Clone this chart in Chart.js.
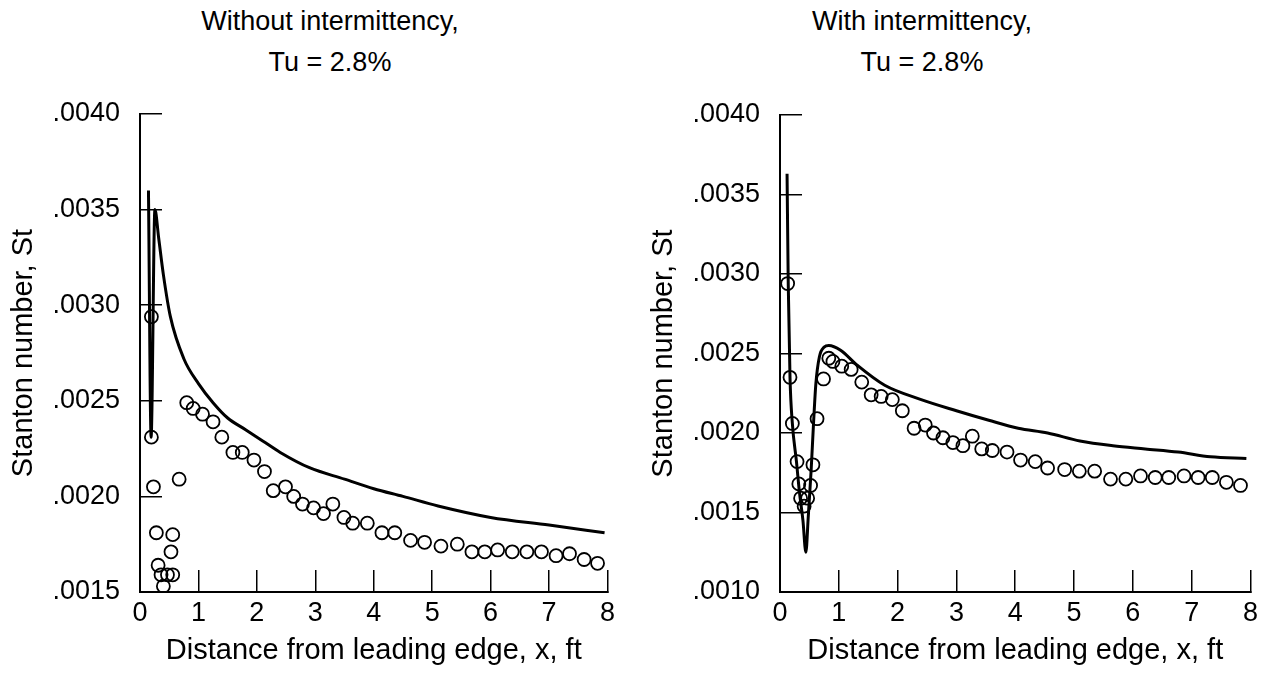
<!doctype html>
<html>
	<head>
		<meta charset="utf-8" />
		<title>Stanton number vs distance from leading edge</title>
		<script src="https://cdn.jsdelivr.net/npm/chart.js@4.4.1/dist/chart.umd.min.js"></script>
		<style>
			html,
			body {
				margin: 0;
				padding: 0;
				background: #fff;
			}

			#wrap {
				position: relative;
				width: 1285px;
				height: 675px;
				font-family: "Liberation Sans", Arial, Helvetica, sans-serif;
			}

			canvas {
				position: absolute;
				top: 0;
			}

			.ttl {
				position: absolute;
				top: 1px;
				width: 400px;
				margin-left: -200px;
				text-align: center;
				font-size: 27px;
				line-height: 41px;
				color: #000;
			}
		</style>
	</head>

	<body>
		<div id="wrap">
			<div class="ttl" style="left: 330px">Without intermittency,<br />Tu = 2.8%</div>
			<div class="ttl" style="left: 922px">With intermittency,<br />Tu = 2.8%</div>
			<canvas id="leftChart" width="642" height="675" style="left: 0"></canvas>
			<canvas id="rightChart" width="643" height="675" style="left: 642px"></canvas>
		</div>

		<script>
			// values (x in ft, St)
			const xTicks = [0, 1, 2, 3, 4, 5, 6, 7, 8];

			// left panel: without intermittency
			const noIntLineX = [0.145, 0.19, 0.255, 0.32, 0.4, 0.52, 0.75, 1.0, 1.25, 1.5, 1.8, 2.1, 2.4, 2.9, 3.5, 4.0, 4.5, 5.1, 6.0, 7.0, 7.95];
			const noIntLineSt = [0.0036, 0.00231, 0.0035, 0.00335, 0.00316, 0.00294, 0.00272, 0.00259, 0.00249, 0.00241, 0.00235, 0.00229, 0.00223, 0.00215, 0.00209, 0.00204, 0.002, 0.00195, 0.00189, 0.00185, 0.00181];
			const noIntDataX = [0.195, 0.195, 0.23, 0.28, 0.31, 0.36, 0.4, 0.47, 0.56, 0.53, 0.56, 0.67, 0.8, 0.91, 1.07, 1.25, 1.4, 1.59, 1.75, 1.95, 2.13, 2.28, 2.49, 2.63, 2.78, 2.97, 3.14, 3.3, 3.49, 3.64, 3.89, 4.14, 4.36, 4.63, 4.87, 5.15, 5.43, 5.68, 5.9, 6.12, 6.37, 6.62, 6.87, 7.12, 7.35, 7.6, 7.83];
			const noIntDataSt = [0.00294, 0.00231, 0.00205, 0.00181, 0.00164, 0.00159, 0.00153, 0.00159, 0.00159, 0.00171, 0.0018, 0.00209, 0.00249, 0.00246, 0.00243, 0.00239, 0.00231, 0.00223, 0.00223, 0.00219, 0.00213, 0.00203, 0.00205, 0.002, 0.00196, 0.00194, 0.00191, 0.00196, 0.00189, 0.00186, 0.00186, 0.00181, 0.00181, 0.00177, 0.00176, 0.00174, 0.00175, 0.00171, 0.00171, 0.00172, 0.00171, 0.00171, 0.00171, 0.00169, 0.0017, 0.00167, 0.00165];
			const noIntStTicks = [0.0015, 0.002, 0.0025, 0.003, 0.0035, 0.004];

			// right panel: with intermittency
			const intLineX = [0.12, 0.14, 0.17, 0.21, 0.28, 0.33, 0.39, 0.44, 0.48, 0.53, 0.57, 0.61, 0.67, 0.75, 0.83, 1.03, 1.3, 1.78, 2.4, 3.0, 3.55, 4.05, 4.55, 5.1, 5.66, 6.21, 6.77, 7.32, 7.93];
			const intLineSt = [0.00363, 0.00294, 0.00235, 0.00206, 0.00182, 0.00163, 0.00145, 0.00125, 0.00147, 0.00177, 0.00206, 0.00231, 0.00248, 0.00254, 0.00255, 0.00252, 0.00243, 0.0023, 0.00221, 0.00214, 0.00208, 0.00203, 0.002, 0.00195, 0.00192, 0.0019, 0.00188, 0.00185, 0.00184];
			const intDataX = [0.13, 0.17, 0.21, 0.29, 0.32, 0.35, 0.41, 0.47, 0.52, 0.56, 0.63, 0.74, 0.83, 0.9, 1.05, 1.21, 1.39, 1.55, 1.72, 1.91, 2.08, 2.28, 2.47, 2.61, 2.77, 2.94, 3.11, 3.27, 3.43, 3.61, 3.86, 4.09, 4.34, 4.55, 4.84, 5.09, 5.35, 5.62, 5.88, 6.13, 6.38, 6.61, 6.87, 7.11, 7.35, 7.59, 7.83];
			const intDataSt = [0.00294, 0.00235, 0.00206, 0.00182, 0.00168, 0.00159, 0.00154, 0.00159, 0.00167, 0.0018, 0.00209, 0.00234, 0.00247, 0.00245, 0.00242, 0.0024, 0.00232, 0.00224, 0.00223, 0.00221, 0.00214, 0.00203, 0.00205, 0.002, 0.00197, 0.00194, 0.00192, 0.00198, 0.0019, 0.00189, 0.00188, 0.00183, 0.00182, 0.00178, 0.00177, 0.00176, 0.00176, 0.00171, 0.00171, 0.00173, 0.00172, 0.00172, 0.00173, 0.00172, 0.00172, 0.00169, 0.00167];
			const intStTicks = [0.001, 0.0015, 0.002, 0.0025, 0.003, 0.0035, 0.004];

			const xTitle = "Distance from leading edge, x, ft";
			const yTitle = "Stanton number, St";

			Chart.defaults.font.family = '"Liberation Sans", Arial, Helvetica, sans-serif';
			Chart.defaults.color = "#000";

			function toPoints(xs, ys) {
				return xs.map((x, i) => ({ x: x, y: ys[i] }));
			}

			function makeChart(id, line, data, stTicks, box) {
				const ctx = document.getElementById(id).getContext("2d");
				return new Chart(ctx, {
					type: "scatter",
					data: {
						datasets: [
							{
								data: line,
								showLine: true,
								borderColor: "#000",
								borderWidth: 3,
								pointRadius: 0,
								cubicInterpolationMode: "monotone",
							},
							{
								data: data,
								showLine: false,
								pointRadius: 6.5,
								pointBorderWidth: 1.8,
								borderColor: "#000",
								backgroundColor: "rgba(0,0,0,0)",
							},
						],
					},
					options: {
						responsive: false,
						animation: false,
						layout: { padding: { top: box.top, right: box.right, left: 0, bottom: 0 } },
						plugins: { legend: { display: false }, tooltip: { enabled: false } },
						scales: {
							x: {
								type: "linear",
								min: xTicks[0],
								max: xTicks[xTicks.length - 1],
								afterBuildTicks: (s) => {
									s.ticks = xTicks.map((v) => ({ value: v }));
								},
								afterFit: (s) => {
									s.height = 675 - box.bottom;
								},
								grid: {
									drawOnChartArea: false,
									tickLength: -22,
									color: "#000",
									lineWidth: 1.5,
								},
								border: { color: "#000", width: 2 },
								ticks: { padding: 27, font: { size: 27 }, callback: (v) => String(v) },
								title: {
									display: true,
									text: xTitle,
									font: { size: 29 },
									padding: { top: 0, bottom: 7 },
								},
							},
							y: {
								type: "linear",
								min: stTicks[0],
								max: stTicks[stTicks.length - 1],
								afterBuildTicks: (s) => {
									s.ticks = stTicks.map((v) => ({ value: v }));
								},
								afterFit: (s) => {
									s.width = box.left;
								},
								grid: {
									drawOnChartArea: false,
									tickLength: -22,
									color: "#000",
									lineWidth: 1.5,
								},
								border: { color: "#000", width: 2 },
								ticks: {
									padding: 42,
									font: { size: 27 },
									callback: (v) => v.toFixed(4).slice(1),
								},
								title: {
									display: true,
									text: yTitle,
									font: { size: 29 },
									padding: { top: box.yTitle, bottom: 0 },
								},
							},
						},
					},
				});
			}

			makeChart(
				"leftChart",
				toPoints(noIntLineX, noIntLineSt),
				toPoints(noIntDataX, noIntDataSt),
				noIntStTicks,
				{ left: 140, top: 114, right: 22, bottom: 592, yTitle: 7 },
			);
			makeChart(
				"rightChart",
				toPoints(intLineX, intLineSt),
				toPoints(intDataX, intDataSt),
				intStTicks,
				{ left: 138, top: 115, right: 24, bottom: 592, yTitle: 5 },
			);
		</script>
	</body>
</html>
